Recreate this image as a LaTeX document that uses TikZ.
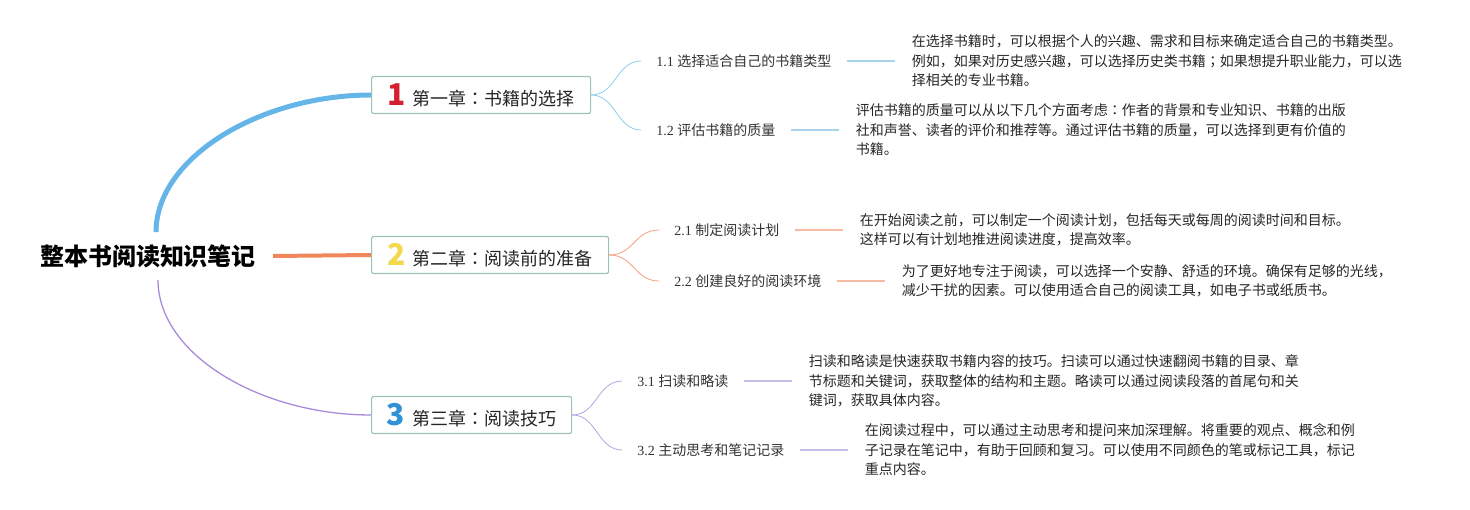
\documentclass[tikz,border=0pt]{standalone}
\usepackage{fontspec}
\setmainfont{Liberation Serif}
\newfontfamily\cjk{Noto Sans CJK SC}
\newfontfamily\cjkmid{Noto Sans CJK TC}
\usetikzlibrary{positioning,calc}
\definecolor{topblue}{HTML}{66B5E8}
\definecolor{subblue}{HTML}{8FCBEE}
\definecolor{stubblue}{HTML}{A9D3ED}
\definecolor{toporange}{HTML}{F0875A}
\definecolor{suborange}{HTML}{F3A07E}
\definecolor{stuborange}{HTML}{F6BBA3}
\definecolor{toppurple}{HTML}{A98BDB}
\definecolor{subpurple}{HTML}{B6A3E2}
\definecolor{stubpurple}{HTML}{C5BCE8}
\definecolor{boxrim}{HTML}{9FC2B8}
\definecolor{numred}{HTML}{D4202F}
\definecolor{numyellow}{HTML}{F2D94E}
\definecolor{numblue}{HTML}{2F92D6}
\newcommand\chapnum[2]{{\cjk\bfseries\fontsize{30}{30}\selectfont\color{#1}#2}\hspace{7pt}}
\newcommand\mcolon{{\cjkmid ：}}
\newcommand\msemi{{\cjkmid ；}}
\tikzset{
  rootnode/.style={font=\cjk\bfseries\fontsize{24}{28}\selectfont, inner xsep=17pt, inner ysep=12pt},
  chapbox/.style={draw=boxrim, fill=white, line width=1.2pt, rounded corners=2pt, minimum height=37pt, inner ysep=3pt, font=\cjk\fontsize{18}{22}\selectfont, text=black!85},
  sublabel/.style={inner xsep=15pt, inner ysep=3pt, font=\fontsize{14}{17}\selectfont, text=black!80},
  notetext/.style={align=left, inner xsep=17pt, font=\cjk\fontsize{14}{19.5}\selectfont, text=black!85},
  sublink/.style={line width=0.8pt},
  stub/.style={line width=1.6pt}
}

\begin{document}
\begin{tikzpicture}[x=1pt, y=-1pt, node distance=48pt]
\useasboundingbox (0,0) rectangle (1470,510);
\node[rootnode] (root) at (148,256) {整本书阅读知识笔记};
\node[chapbox, minimum width=219pt, anchor=west] (ch1) at (371,95) {\chapnum{numred}{1}第一章\mcolon 书籍的选择};
\node[chapbox, minimum width=237pt, anchor=west] (ch2) at (371,255) {\chapnum{numyellow}{2}第二章\mcolon 阅读前的准备};
\node[chapbox, minimum width=200pt, anchor=west] (ch3) at (371,415) {\chapnum{numblue}{3}第三章\mcolon 阅读技巧};
% main branches
\draw[topblue, line width=5pt] ($(root.north)+(8,0)$) .. controls +(0,-75) and +(-110,0) .. (ch1.west);
\draw[toporange, line width=4pt] (root.east) -- (ch2.west);
\draw[toppurple, line width=1.3pt] ($(root.south)+(10,0)$) .. controls +(0,75) and +(-110,0) .. (ch3.west);
% chapter 1
\node[sublabel, right=50pt of ch1, yshift=34pt] (s11) {1.1 {\cjk 选择适合自己的书籍类型}};
\node[sublabel, right=50pt of ch1, yshift=-35pt] (s12) {1.2 {\cjk 评估书籍的质量}};
\node[notetext, right=of s11] (n11) {在选择书籍时，可以根据个人的兴趣、需求和目标来确定适合自己的书籍类型。\\
例如，如果对历史感兴趣，可以选择历史类书籍\msemi 如果想提升职业能力，可以选\\
择相关的专业书籍。};
\node[notetext, right=of s12] (n12) {评估书籍的质量可以从以下几个方面考虑\mcolon 作者的背景和专业知识、书籍的出版\\
社和声誉、读者的评价和推荐等。通过评估书籍的质量，可以选择到更有价值的\\
书籍。};
\draw[sublink, subblue] (ch1.east) .. controls +(25,0) and +(-25,0) .. (s11.west);
\draw[sublink, subblue] (ch1.east) .. controls +(25,0) and +(-25,0) .. (s12.west);
\draw[stub, stubblue] (s11) -- (n11);
\draw[stub, stubblue] (s12) -- (n12);
% chapter 2
\node[sublabel, right=50pt of ch2, yshift=25pt] (s21) {2.1 {\cjk 制定阅读计划}};
\node[sublabel, right=50pt of ch2, yshift=-26pt] (s22) {2.2 {\cjk 创建良好的阅读环境}};
\node[notetext, right=of s21] (n21) {在开始阅读之前，可以制定一个阅读计划，包括每天或每周的阅读时间和目标。\\
这样可以有计划地推进阅读进度，提高效率。};
\node[notetext, right=of s22] (n22) {为了更好地专注于阅读，可以选择一个安静、舒适的环境。确保有足够的光线，\\
减少干扰的因素。可以使用适合自己的阅读工具，如电子书或纸质书。};
\draw[sublink, suborange] (ch2.east) .. controls +(25,0) and +(-25,0) .. (s21.west);
\draw[sublink, suborange] (ch2.east) .. controls +(25,0) and +(-25,0) .. (s22.west);
\draw[stub, stuborange] (s21) -- (n21);
\draw[stub, stuborange] (s22) -- (n22);
% chapter 3
\node[sublabel, right=50pt of ch3, yshift=34pt] (s31) {3.1 {\cjk 扫读和略读}};
\node[sublabel, right=50pt of ch3, yshift=-35pt] (s32) {3.2 {\cjk 主动思考和笔记记录}};
\node[notetext, right=of s31] (n31) {扫读和略读是快速获取书籍内容的技巧。扫读可以通过快速翻阅书籍的目录、章\\
节标题和关键词，获取整体的结构和主题。略读可以通过阅读段落的首尾句和关\\
键词，获取具体内容。};
\node[notetext, right=of s32] (n32) {在阅读过程中，可以通过主动思考和提问来加深理解。将重要的观点、概念和例\\
子记录在笔记中，有助于回顾和复习。可以使用不同颜色的笔或标记工具，标记\\
重点内容。};
\draw[sublink, subpurple] (ch3.east) .. controls +(25,0) and +(-25,0) .. (s31.west);
\draw[sublink, subpurple] (ch3.east) .. controls +(25,0) and +(-25,0) .. (s32.west);
\draw[stub, stubpurple] (s31) -- (n31);
\draw[stub, stubpurple] (s32) -- (n32);
\end{tikzpicture}
\end{document}
